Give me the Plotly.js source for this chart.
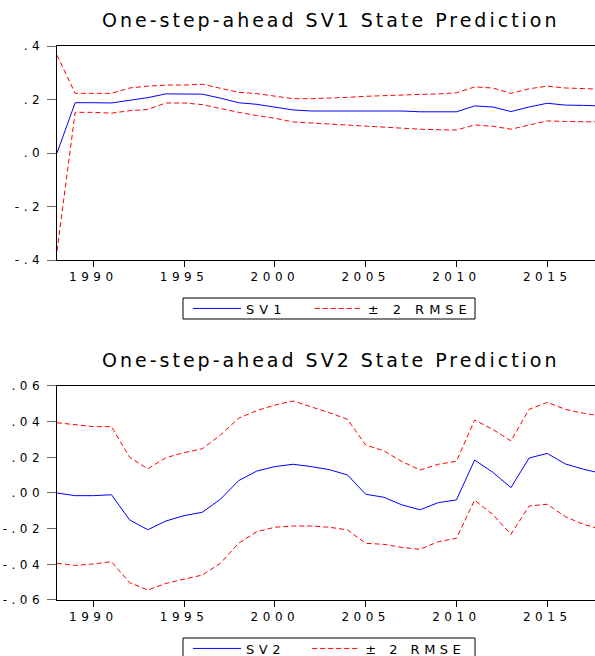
<!DOCTYPE html>
<html>
<head>
<meta charset="utf-8">
<script src="https://cdn.plot.ly/plotly-3.0.1.min.js"></script>
<style>
html,body{margin:0;padding:0;background:#fff;}
#chart{width:595px;height:656px;}
svg text{letter-spacing:4.5px;}
svg text.annotation-text{letter-spacing:3px;}
svg text.legendtext{letter-spacing:5px;}
</style>
</head>
<body>
<div id="chart"></div>
<script>
const years = [1988,1989,1990,1991,1992,1993,1994,1995,1996,1997,1998,1999,2000,2001,2002,2003,2004,2005,2006,2007,2008,2009,2010,2011,2012,2013,2014,2015,2016,2017,2018];

const sv1 = [0.000,0.188,0.188,0.187,0.197,0.207,0.221,0.221,0.220,0.205,0.188,0.182,0.172,0.161,0.157,0.157,0.157,0.157,0.157,0.157,0.154,0.154,0.154,0.176,0.172,0.155,0.172,0.186,0.179,0.178,0.176];
const sv1Upper = [0.366,0.223,0.223,0.223,0.243,0.250,0.254,0.254,0.257,0.243,0.227,0.222,0.213,0.203,0.203,0.205,0.208,0.212,0.215,0.218,0.219,0.221,0.225,0.247,0.243,0.223,0.240,0.250,0.243,0.241,0.238];
const sv1Lower = [-0.366,0.152,0.152,0.149,0.158,0.163,0.187,0.187,0.181,0.166,0.152,0.140,0.130,0.116,0.112,0.108,0.105,0.101,0.097,0.093,0.089,0.087,0.086,0.105,0.100,0.089,0.105,0.120,0.118,0.117,0.116];

const sv2 = [0.000,-0.0015,-0.0015,-0.001,-0.0151,-0.0206,-0.0157,-0.0127,-0.0108,-0.0035,0.0069,0.0123,0.0148,0.0161,0.0148,0.0131,0.0101,-0.0007,-0.0024,-0.0067,-0.0094,-0.0054,-0.0039,0.0185,0.0116,0.0030,0.0196,0.0222,0.0163,0.0133,0.0110];
const sv2Upper = [0.0394,0.0381,0.0372,0.0372,0.0200,0.0136,0.0198,0.0226,0.0248,0.0325,0.0419,0.0462,0.0493,0.0516,0.0484,0.0450,0.0413,0.0269,0.0237,0.0176,0.0129,0.0161,0.0178,0.0409,0.0357,0.0292,0.0469,0.0508,0.0469,0.0447,0.0432];
const sv2Lower = [-0.0394,-0.0406,-0.0398,-0.0385,-0.0503,-0.0544,-0.0507,-0.0482,-0.0460,-0.0394,-0.0282,-0.0217,-0.0192,-0.0185,-0.0185,-0.0192,-0.0207,-0.0282,-0.0288,-0.0305,-0.0316,-0.0273,-0.0254,-0.0040,-0.0120,-0.0232,-0.0073,-0.0063,-0.0133,-0.0176,-0.0204];

const xTickVals = [1990,1995,2000,2005,2010,2015];
const xTickText = ["1990","1995","2000","2005","2010","2015"];
const y1TickVals = [0.4,0.2,0.0,-0.2,-0.4];
const y1TickText = [".4",".2",".0","-.2","-.4"];
const y2TickVals = [0.06,0.04,0.02,0.0,-0.02,-0.04,-0.06];
const y2TickText = [".06",".04",".02",".00","-.02","-.04","-.06"];

const titles = ["One-step-ahead SV1 State Prediction","One-step-ahead SV2 State Prediction"];
const names1 = ["SV1","\u00b1 2 RMSE"];
const names2 = ["SV2","\u00b1 2 RMSE"];

const BLUE = "#0000ff", RED = "#ff0000";
const FONT = "DejaVu Sans, Liberation Sans, sans-serif";
const dash = "5px,3px";
const PAD = "\u00a0\u00a0";

const traces = [
  {x: years, y: sv1, xaxis:"x", yaxis:"y", mode:"lines", name:names1[0] + PAD, line:{color:BLUE,width:1}, legend:"legend"},
  {x: years, y: sv1Upper, xaxis:"x", yaxis:"y", mode:"lines", name:names1[1], line:{color:RED,width:1,dash:dash}, legend:"legend", legendgroup:"b1"},
  {x: years, y: sv1Lower, xaxis:"x", yaxis:"y", mode:"lines", name:names1[1], line:{color:RED,width:1,dash:dash}, legend:"legend", legendgroup:"b1", showlegend:false},
  {x: years, y: sv2, xaxis:"x2", yaxis:"y2", mode:"lines", name:names2[0] + PAD, line:{color:BLUE,width:1}, legend:"legend2"},
  {x: years, y: sv2Upper, xaxis:"x2", yaxis:"y2", mode:"lines", name:names2[1], line:{color:RED,width:1,dash:dash}, legend:"legend2", legendgroup:"b2"},
  {x: years, y: sv2Lower, xaxis:"x2", yaxis:"y2", mode:"lines", name:names2[1], line:{color:RED,width:1,dash:dash}, legend:"legend2", legendgroup:"b2", showlegend:false}
];

const xCommon = {
  range:[1988,2017.63], showgrid:false, zeroline:false, showline:true, linecolor:"#000", linewidth:1, mirror:true,
  ticks:"outside", ticklen:6, tickcolor:"#000", tickvals:xTickVals, ticktext:xTickText,
  tickfont:{family:FONT,size:12,color:"#000"}
};
const yCommon = {
  showgrid:false, zeroline:false, showline:true, linecolor:"#000", linewidth:1.5,
  ticks:"outside", ticklen:9, tickcolor:"#666", tickfont:{family:FONT,size:12,color:"#000"}
};

const legendCommon = {
  orientation:"h", xanchor:"left", yanchor:"middle", borderwidth:0, bgcolor:"rgba(0,0,0,0)",
  font:{family:FONT,size:13,color:"#000"}, itemwidth:48, tracegroupgap:0
};

const layout = {
  width:595, height:656,
  margin:{l:57, r:0, t:46, b:56, autoexpand:false},
  paper_bgcolor:"#fff", plot_bgcolor:"#fff",
  font:{family:FONT,color:"#000"},
  xaxis: Object.assign({}, xCommon, {anchor:"y"}),
  yaxis: Object.assign({}, yCommon, {domain:[0.6137,1], range:[-0.4,0.4], tickvals:y1TickVals, ticktext:y1TickText, anchor:"x"}),
  xaxis2: Object.assign({}, xCommon, {anchor:"y2"}),
  yaxis2: Object.assign({}, yCommon, {domain:[0,0.3863], range:[-0.06,0.06], tickvals:y2TickVals, ticktext:y2TickText, anchor:"x2"}),
  legend: Object.assign({}, legendCommon, {x:0.2435, y:0.5262}),
  legend2: Object.assign({}, legendCommon, {x:0.2435, y:-0.0875}),
  shapes:[
    {type:"rect", xref:"paper", yref:"paper", x0:0.2342, x1:0.7770, y0:0.5072, y1:0.5451, line:{color:"#000",width:1}, fillcolor:"rgba(0,0,0,0)"},
    {type:"rect", xref:"paper", yref:"paper", x0:0.2342, x1:0.7770, y0:-0.1065, y1:-0.0686, line:{color:"#000",width:1}, fillcolor:"rgba(0,0,0,0)"}
  ],
  annotations:[
    {text:titles[0], xref:"paper", yref:"paper", x:0.509, y:1.047, xanchor:"center", yanchor:"middle", showarrow:false, font:{family:FONT,size:19,color:"#000"}},
    {text:titles[1], xref:"paper", yref:"paper", x:0.509, y:0.4332, xanchor:"center", yanchor:"middle", showarrow:false, font:{family:FONT,size:19,color:"#000"}}
  ],
  showlegend:true
};

Plotly.newPlot("chart", traces, layout, {displayModeBar:false, staticPlot:true});
</script>
</body>
</html>
